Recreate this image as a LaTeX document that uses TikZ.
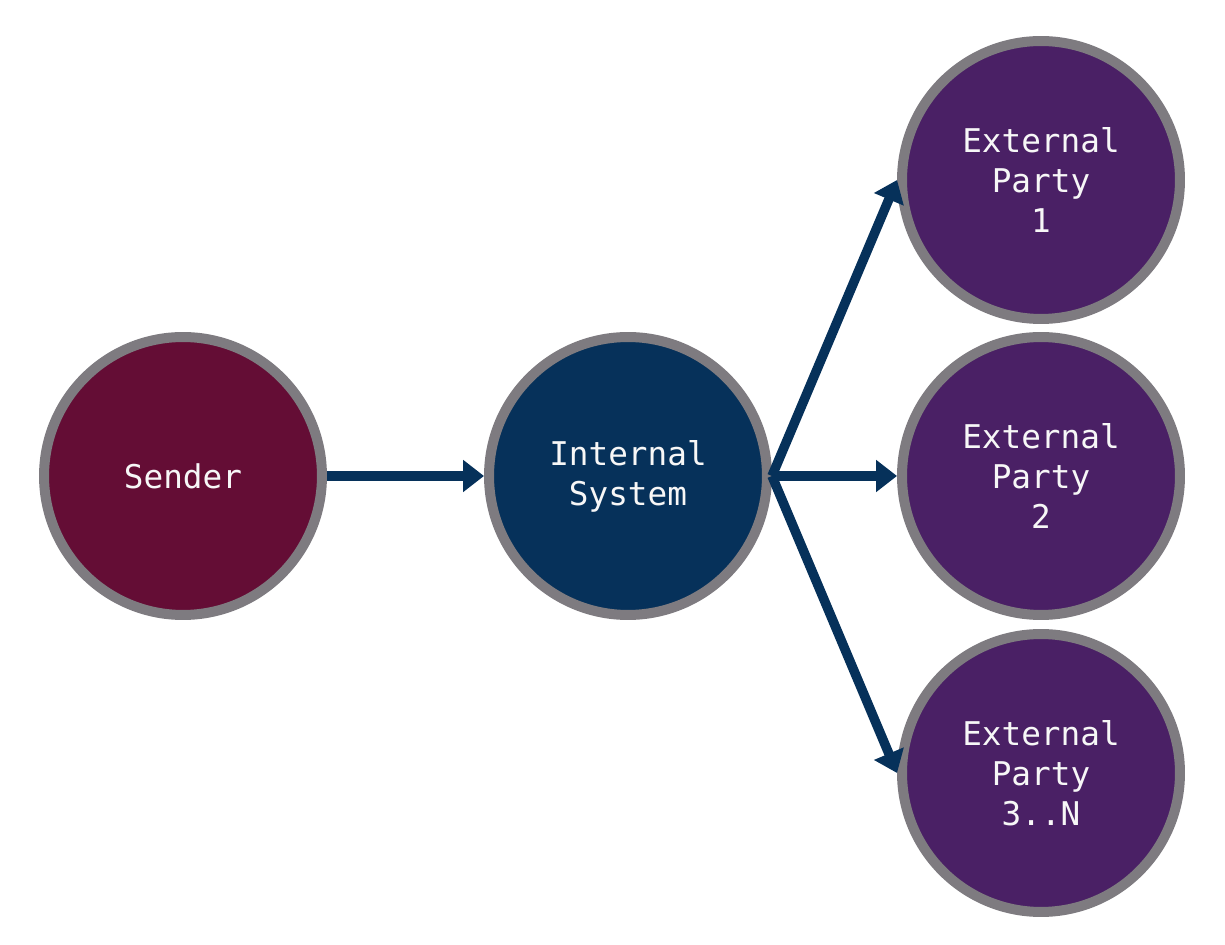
\documentclass[tikz,border=0pt]{standalone}
\usepackage{fontspec}
\setmonofont{DejaVu Sans Mono}
\usetikzlibrary{arrows.meta}
\definecolor{senderred}{HTML}{640D35}
\definecolor{systemblue}{HTML}{06315A}
\definecolor{partypurple}{HTML}{4A2065}
\definecolor{rimgray}{HTML}{7E7B80}

\begin{document}
\begin{tikzpicture}[x=0.02cm, y=-0.02cm,
    >={Triangle[length=0.42cm, width=0.62cm]},
    actor/.style={circle, draw=rimgray, line width=0.2cm, minimum size=5.56cm,
        inner sep=0pt, align=center, text=white!94!gray,
        font=\ttfamily\fontsize{18.6}{22.7}\selectfont},
    flow/.style={->, line width=0.19cm, systemblue}]
    \useasboundingbox (0,0) rectangle (1225,945);

    % Sender and hub
    \node[actor, fill=senderred] (sender) at (183,476) {Sender};
    \node[actor, fill=systemblue] (internal) at (628,476) {Internal\\System};

    % External parties
    \node[actor, fill=partypurple] (party1) at (1041,180) {External\\Party\\1};
    \node[actor, fill=partypurple] (party2) at (1041,476) {External\\Party\\2};
    \node[actor, fill=partypurple] (party3) at (1041,773) {External\\Party\\3..N};

    % Message flow
    \draw[flow] (sender) -- (internal);
    \foreach \p in {party1, party2, party3} {
        \draw[flow] (internal.east) -- (\p.west);
    }
\end{tikzpicture}
\end{document}
